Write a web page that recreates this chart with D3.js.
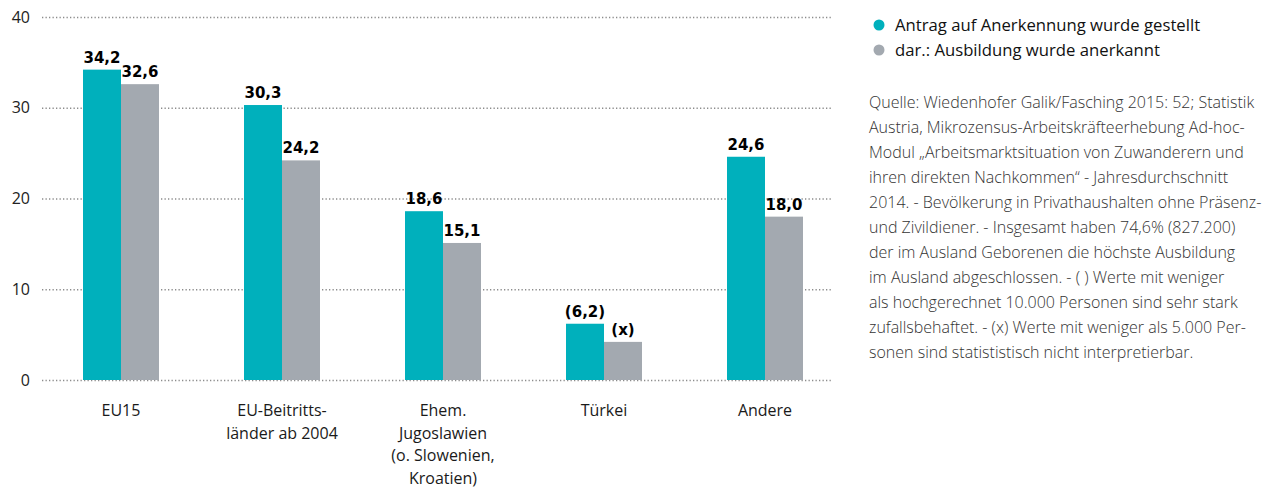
<!DOCTYPE html>
<html>
<head>
<meta charset="utf-8">
<script src="https://cdn.jsdelivr.net/npm/d3@7"></script>
<style>
  body { margin: 0; background: #fff; }
  svg { display: block; }
</style>
</head>
<body>
<script>
var categories = ["EU15", "EU-Beitritts-\nländer ab 2004", "Ehem.\nJugoslawien\n(o. Slowenien,\nKroatien)", "Türkei", "Andere"];
var series = ["Antrag auf Anerkennung wurde gestellt", "dar.: Ausbildung wurde anerkannt"];
var antrag     = [34.2, 30.3, 18.6, 6.2, 24.6];
var anerkannt  = [32.6, 24.2, 15.1, 4.2, 18.0];
var antragLbl  = ["34,2", "30,3", "18,6", "(6,2)", "24,6"];
var anerkLbl   = ["32,6", "24,2", "15,1", "(x)", "18,0"];
var yTicks     = [0, 10, 20, 30, 40];
var colors     = ["#00b0bc", "#a3a9b0"];
var sourceLines = [
  "Quelle: Wiedenhofer Galik/Fasching 2015: 52; Statistik",
  "Austria, Mikrozensus-Arbeitskräfteerhebung Ad-hoc-",
  "Modul „Arbeitsmarktsituation von Zuwanderern und",
  "ihren direkten Nachkommen“ - Jahresdurchschnitt",
  "2014. - Bevölkerung in Privathaushalten ohne Präsenz-",
  "und Zivildiener. - Insgesamt haben 74,6% (827.200)",
  "der im Ausland Geborenen die höchste Ausbildung",
  "im Ausland abgeschlossen. - ( ) Werte mit weniger",
  "als hochgerechnet 10.000 Personen sind sehr stark",
  "zufallsbehaftet. - (x) Werte mit weniger als 5.000 Per-",
  "sonen sind statististisch nicht interpretierbar."
];

var data = categories.map(function(c, i) {
  return {
    cat: c,
    values: [
      {key: series[0], value: antrag[i], label: antragLbl[i]},
      {key: series[1], value: anerkannt[i], label: anerkLbl[i]}
    ]
  };
});

var width  = 1266;
var height = 490;
var font   = "'Open Sans', 'Noto Sans', sans-serif";

var svg = d3.select("body")
            .append("svg")
            .attr("width", width)
            .attr("height", height);

var x0 = d3.scaleBand()
           .domain(categories)
           .range([40.5, 845.5])
           .paddingInner(0.528)
           .paddingOuter(0.264);

var x1 = d3.scaleBand()
           .domain(series)
           .range([0, x0.bandwidth()]);

var y = d3.scaleLinear().domain([0, 40]).range([380, 17]);

var color = d3.scaleOrdinal().domain(series).range(colors);

// grid + y axis labels
var yAxis = svg.append("g")
  .attr("transform", "translate(42,0)")
  .call(d3.axisLeft(y).tickValues(yTicks).tickSize(-790).tickPadding(12));

yAxis.select(".domain").remove();
yAxis.selectAll(".tick line")
     .attr("stroke", "#8c8c8c")
     .attr("stroke-width", 1.3)
     .attr("stroke-dasharray", "1.3,2.2");
yAxis.selectAll(".tick text")
     .attr("fill", "#222")
     .style("font-family", font)
     .style("font-size", "16px");

// bars
var groups = svg.selectAll(".group")
  .data(data)
  .enter().append("g")
          .attr("class", "group")
          .attr("transform", function(d) { return "translate(" + x0(d.cat) + ",0)"; });

groups.selectAll("rect")
  .data(function(d) { return d.values; })
  .enter().append("rect")
          .attr("x", function(d) { return x1(d.key); })
          .attr("y", function(d) { return y(d.value); })
          .attr("width", x1.bandwidth())
          .attr("height", function(d) { return y(0) - y(d.value); })
          .attr("fill", function(d) { return color(d.key); });

groups.selectAll(".val")
  .data(function(d) { return d.values; })
  .enter().append("text")
          .attr("class", "val")
          .attr("x", function(d) { return x1(d.key) + x1.bandwidth() / 2; })
          .attr("y", function(d) { return y(d.value) - 7; })
          .attr("text-anchor", "middle")
          .style("font-family", "'DejaVu Sans', sans-serif")
          .style("font-weight", "bold")
          .style("font-size", "15px")
          .attr("fill", "#000")
          .text(function(d) { return d.label; });

// category labels
var catText = svg.selectAll(".cat")
  .data(categories)
  .enter().append("text")
          .attr("class", "cat")
          .attr("text-anchor", "middle")
          .attr("x", function(d) { return x0(d) + x0.bandwidth() / 2; })
          .attr("y", 416)
          .attr("fill", "#1a1a1a")
          .style("font-family", font)
          .style("font-size", "16px");

catText.selectAll("tspan")
  .data(function(d) { return d.split("\n").map(function(t) { return {t: t, x: x0(d) + x0.bandwidth() / 2}; }); })
  .enter().append("tspan")
          .attr("x", function(d) { return d.x; })
          .attr("dy", function(d, i) { return i ? 22.7 : 0; })
          .text(function(d) { return d.t; });

// legend
var legend = svg.selectAll(".legend")
  .data(series)
  .enter().append("g")
          .attr("class", "legend")
          .attr("transform", function(d, i) { return "translate(879," + (25 + i * 25) + ")"; });

legend.append("circle")
      .attr("r", 5.5)
      .attr("fill", function(d) { return color(d); });

legend.append("text")
      .attr("x", 16)
      .attr("y", 5.5)
      .attr("fill", "#111")
      .style("font-family", font)
      .style("font-size", "16.7px")
      .text(function(d) { return d; });

// source note
svg.append("text")
   .attr("fill", "#333")
   .style("font-family", font)
   .style("font-weight", 300)
   .style("font-size", "16px")
   .selectAll("tspan")
   .data(sourceLines)
   .enter().append("tspan")
           .attr("x", 869)
           .attr("y", function(d, i) { return 108 + i * 25; })
           .text(function(d) { return d; });
</script>
</body>
</html>
